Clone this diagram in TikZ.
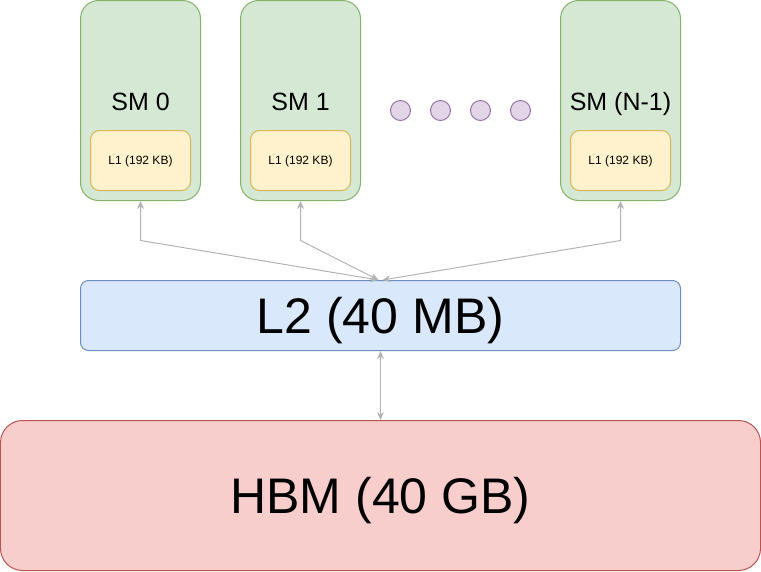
\documentclass[tikz,border=0pt]{standalone}
\usepackage{fontspec}
\setmainfont{Liberation Sans}
\usetikzlibrary{arrows.meta, calc}

\definecolor{smfill}{HTML}{D5E8D4}
\definecolor{smline}{HTML}{82B366}
\definecolor{lonefill}{HTML}{FFF2CC}
\definecolor{loneline}{HTML}{D6B656}
\definecolor{ltwofill}{HTML}{DAE8FC}
\definecolor{ltwoline}{HTML}{6C8EBF}
\definecolor{hbmfill}{HTML}{F8CECC}
\definecolor{hbmline}{HTML}{B85450}
\definecolor{dotfill}{HTML}{E1D5E7}
\definecolor{dotline}{HTML}{9673A6}
\definecolor{linkgray}{HTML}{B3B3B3}

\begin{document}
\begin{tikzpicture}[x=1pt,y=-1pt,line width=1pt,
>={Stealth[length=8pt,width=7pt]},
smbox/.style={draw=smline,fill=smfill,rounded corners=18pt,minimum width=120pt,
  minimum height=200pt,inner sep=0pt},
smtext/.style={inner sep=0pt,text height=18pt,text depth=0pt,font=\fontsize{25}{29}\selectfont},
lonebox/.style={draw=loneline,fill=lonefill,rounded corners=9pt,minimum width=100pt,
  minimum height=60pt,inner sep=0pt,text height=8.6pt,text depth=0pt,
  font=\fontsize{12}{14}\selectfont},
ltwobox/.style={draw=ltwoline,fill=ltwofill,rounded corners=8pt,minimum width=600pt,
  minimum height=70pt,inner sep=0pt},
hbmbox/.style={draw=hbmline,fill=hbmfill,rounded corners=22pt,minimum width=760pt,
  minimum height=150pt,inner sep=0pt},
bigtext/.style={inner sep=0pt,text height=36pt,text depth=0pt,font=\fontsize{50}{58}\selectfont},
dot/.style={circle,draw=dotline,fill=dotfill,minimum size=20pt,inner sep=0pt},
link/.style={<->,linkgray}]

  \useasboundingbox (-0.5,-0.5) rectangle (760.5,570.5);

  % streaming multiprocessors
  \node [smbox] (sm0) at (140,100) {};
  \node [smbox] (sm1) at (300,100) {};
  \node [smbox] (smN) at (620,100) {};
  \node [smtext] (sm0text) at (140,101) {SM 0};
  \node [smtext] (sm1text) at (300,101) {SM 1};
  \node [smtext] (smNtext) at (620,101) {SM (N-1)};

  \node [lonebox] (l1a) at (140,160) {L1 (192 KB)};
  \node [lonebox] (l1b) at (300,160) {L1 (192 KB)};
  \node [lonebox] (l1c) at (620,160) {L1 (192 KB)};

  % dots
  \node [dot] (dot1) at (400,110) {};
  \node [dot] (dot2) at (440,110) {};
  \node [dot] (dot3) at (480,110) {};
  \node [dot] (dot4) at (520,110) {};

  % caches and memory
  \node [ltwobox] (l2)  at (380,315) {};
  \node [hbmbox]  (hbm) at (380,495) {};
  \node [bigtext] (l2text)  at (380,315) {L2 (40 MB)};
  \node [bigtext] (hbmtext) at (380,495) {HBM (40 GB)};

  \coordinate (b0) at (140,240);
  \coordinate (b1) at (300,240);
  \coordinate (bN) at (620,240);

  \draw [link] (sm0.south) -- (b0) -- ([xshift=-2pt]l2.north);
  \draw [link] (sm1.south) -- (b1) -- ([xshift=-2pt]l2.north);
  \draw [link] (smN.south) -- (bN) -- ([xshift=2pt]l2.north);
  \draw [link] (l2.south) -- (hbm.north);
\end{tikzpicture}
\end{document}
